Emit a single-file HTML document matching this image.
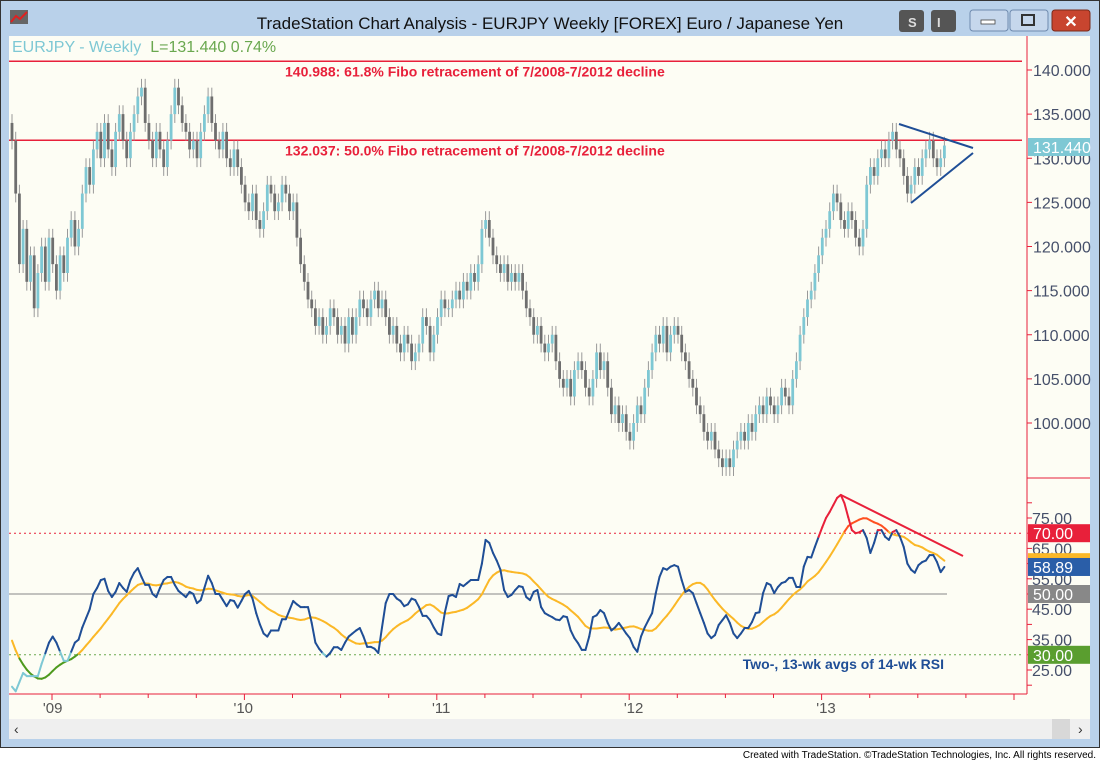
<!DOCTYPE html>
<html><head><meta charset="utf-8"><style>
body{margin:0;width:1100px;height:760px;overflow:hidden;background:#fff;font-family:"Liberation Sans",sans-serif}
</style></head><body>
<svg id="c" width="1100" height="760" xmlns="http://www.w3.org/2000/svg" font-family="Liberation Sans, sans-serif">
<rect x="0" y="0" width="1100" height="748" fill="#b9d1ea"/>
<rect x="0.5" y="0.5" width="1099" height="747" fill="none" stroke="#333"/>
<rect x="10" y="10" width="18" height="14" fill="#666"/>
<polyline points="11,22 16,16 20,19 27,12" stroke="#e02020" stroke-width="2" fill="none"/>
<text x="550" y="29" font-size="17" text-anchor="middle" fill="#111">TradeStation Chart Analysis - EURJPY Weekly [FOREX] Euro / Japanese Yen</text>
<rect x="899" y="10" width="25" height="22" rx="3" fill="#555"/>
<text x="908" y="27" font-size="13" fill="#ddd" font-weight="bold">S</text>
<rect x="931" y="10" width="25" height="22" rx="3" fill="#555"/>
<text x="937" y="27" font-size="13" fill="#ddd" font-weight="bold">I</text>
<rect x="970" y="10" width="38" height="21" rx="3" fill="#c6d7ec" stroke="#6e8aae"/>
<rect x="981" y="20" width="14" height="4" fill="#fff" stroke="#444" stroke-width="0.8"/>
<rect x="1010" y="10" width="38" height="21" rx="3" fill="#c6d7ec" stroke="#6e8aae"/>
<rect x="1022" y="15" width="12" height="10" fill="none" stroke="#333" stroke-width="2"/>
<rect x="1052" y="10" width="38" height="21" rx="3" fill="#c8452f" stroke="#7a2a1a"/>
<text x="1071" y="27" font-size="16" fill="#fff" text-anchor="middle" font-weight="bold">✕</text>
<rect x="9" y="36" width="1081" height="683" fill="#fdfdf4"/>
<rect x="9" y="719" width="1081" height="20" fill="#efefef"/>
<text x="14" y="734" font-size="14" fill="#333">‹</text>
<rect x="1052" y="719" width="18" height="20" fill="#d8d8d8"/>
<text x="1078" y="734" font-size="14" fill="#333">›</text>
<rect x="0" y="748" width="1100" height="12" fill="#fff"/>
<text x="1096" y="758" font-size="10" text-anchor="end" fill="#000">Created with TradeStation. ©TradeStation Technologies, Inc. All rights reserved.</text>
<text x="12" y="52" font-size="16"><tspan fill="#7ec8d4">EURJPY - Weekly</tspan><tspan fill="#6aa84f" dx="9">L=131.440  0.74%</tspan></text>
<g id="g"></g>
</svg>
<script>
const closes=[132,126,118,122,116,119,113,117,120,116,
121,118,115,119,117,121,123,120,122,126,
129,127,131,133,130,134,131,129,133,135,
132,130,133,135,137,138,134,132,130,133,
131,129,132,135,138,136,134,133,131,132,
130,133,135,137,134,132,131,133,130,129,
131,129,127,125,124,126,123,122,124,127,
126,124,125,127,126,124,125,121,118,116,
114,113,111,112,110,111,113,112,110,111,
109,112,110,112,114,113,112,114,115,113,
114,112,110,111,109,108,110,109,107,108,
109,112,111,108,110,112,114,113,113,114,
115,114,116,115,117,116,118,122,123,121,
119,118,117,118,116,117,116,117,115,113,
112,110,111,109,108,109,110,107,105,104,
105,103,106,107,106,104,103,105,108,106,
107,104,101,102,100,101,99,98,100,102,
101,104,106,108,110,109,111,108,110,111,
110,108,107,105,104,102,101,99,98,99,
97,96,95,96,95,97,98,99,98,100,
99,101,102,101,103,102,101,102,104,103,
102,105,107,110,112,114,115,117,119,121,
122,124,126,125,123,122,124,123,121,120,
122,127,129,128,130,131,130,132,133,131,
130,128,126,127,129,128,130,131,132,130,
129,130,131.44];
const rsiFast=[19.5,18,21,24,23,23,23,23,27,30.5,34,36,34,31,28,28,31,34,35,39,
42,45,50,52,54.6,55,51,49,50.7,53.6,52,50.7,54.6,57,58.5,55.6,53,53,50,49,
52,54.6,55.6,55.6,53,51,50,49,50.7,50,47,48,52,56,53.6,50,50,48,46,48,
47.7,45.5,47.7,50,51,48.5,43.7,40,37,36,38,38,38,41.7,41.7,44.7,47.7,46.6,45.7,45.7,
45.7,40.5,34,32,30.5,29.4,30.6,32.5,32.5,31.6,34,36,37,38,38.8,36,32.6,32.6,32,30.6,
39,47,50,50,48.5,47.7,46,46.6,48.5,48,45.7,42.8,42.8,41.4,39,37,36.5,44,49.3,49.7,
49,53.3,52.6,53.6,54.6,54.6,54.6,60,67.8,66.8,63.5,61,58,51.3,49,49.7,51.3,52.6,52.3,49,
48,50.7,51.3,45.7,43.7,43,42.4,41.6,41.4,42.7,42.4,38,35.5,33.8,31.6,31.6,36,42.4,43,44.7,
43.7,40.5,38,39,40.5,38.8,37,35.5,32.6,31,36,39,41.4,43.7,50.3,55.6,58.5,58,59,59.5,
59,54.6,50.7,51.3,50.3,47,43.7,40.5,37,35.5,36.5,39.8,41.4,43,40.5,37,35.5,37,38.8,38.8,
40.8,43.7,44,50.3,53.6,53,50.3,52.3,53.6,54,55.3,55.3,52.3,52.3,59,62.2,62,65.5,68.8,72,
75,77,79.3,81.6,82.6,79.8,75.3,71,70,70.3,71,68.4,63.5,66.8,71,71,68.8,67.8,70.4,71,
68.8,65.5,60,58,57,59.5,60.5,61,62.8,62.8,60.5,57.2,58.89];
const rsiSeed=[60,55,50,45,40,35,32,28,25,22,20,19];
const priceTicks=[140,135,130,125,120,115,110,105,100];
const rsiTicks=[75,65,55,45,35,25];
const yearLabels=["'09","'10","'11","'12","'13"];
const yearWeeks=[11,62.5,116,168,220];
const fibLevels=[140.988,132.037];
const fibTexts=["140.988: 61.8% Fibo retracement of 7/2008-7/2012 decline","132.037: 50.0% Fibo retracement of 7/2008-7/2012 decline"];

const NS="http://www.w3.org/2000/svg",G=document.getElementById('g');
function mk(t,a,p){const e=document.createElementNS(NS,t);for(const k in a)e.setAttribute(k,a[k]);(p||G).appendChild(e);return e;}
const X=i=>12+i*3.7, PY=v=>70+(140-v)*8.825, RY=v=>594-(v-50)*3.04;
const AX=1027;
let e=mk('line',{x1:AX,y1:36,x2:AX,y2:694,stroke:'#e8203a'});

e=mk('line',{x1:9,y1:694,x2:AX,y2:694,stroke:'#e8203a'});

mk('line',{x1:AX,y1:478,x2:1090,y2:478,stroke:'#e8203a'});
priceTicks.forEach(v=>{const y=PY(v);mk('line',{x1:AX,y1:y,x2:AX+5,y2:y,stroke:'#e8203a'});
 const t=mk('text',{x:1033,y:y+6,'font-size':16,fill:'#46506a'});t.textContent=v.toFixed(3);
 });
for(let v=80;v>=20;v-=5){const y=RY(v);mk('line',{x1:AX,y1:y,x2:AX+5,y2:y,stroke:'#e8203a'});}
rsiTicks.forEach(v=>{const y=RY(v);const t=mk('text',{x:1032,y:y+6,'font-size':16,fill:'#46506a'});t.textContent=v.toFixed(2);
 });
for(let k=0;k<21;k++){const x=52+k*48.1;if(x>AX)break;mk('line',{x1:x,y1:694,x2:x,y2:k%4==0?700:698,stroke:'#e8203a'});}
yearLabels.forEach((l,k)=>{const t=mk('text',{x:X(yearWeeks[k]),y:713,'font-size':15,fill:'#555','text-anchor':'middle'});t.textContent=l;
 });
fibLevels.forEach((v,k)=>{const y=PY(v);e=mk('line',{x1:9,y1:y,x2:1022,y2:y,stroke:'#e8203a','stroke-width':1.5});
 
 const t=mk('text',{x:285,y:y+15,'font-size':14,'font-weight':'bold',fill:'#e8203a'});t.textContent=fibTexts[k];
 });
closes.forEach((c,i)=>{const o=i?closes[i-1]:c+2;const up=c>=o;const x=X(i);
 const hi=Math.max(o,c)+1,lo=Math.min(o,c)-1;
 mk('line',{x1:x,y1:PY(hi),x2:x,y2:PY(lo),stroke:'#999','stroke-width':1});
 const b=mk('rect',{x:x-1.4,y:PY(Math.max(o,c)),width:2.8,height:Math.max(1,Math.abs(PY(o)-PY(c))),fill:up?'#7ec8d4':'#6e6e6e'});
 });
e=mk('polyline',{points:'899,124 973,148',stroke:'#1f4e96','stroke-width':2,fill:'none'});

e=mk('polyline',{points:'911,203 973,153',stroke:'#1f4e96','stroke-width':2,fill:'none'});

e=mk('rect',{x:1028,y:138,width:62,height:18,fill:'#7ec8d4'});

let t=mk('text',{x:1033,y:153,'font-size':16,fill:'#fff'});t.textContent=closes[closes.length-1].toFixed(3);
mk('line',{x1:9,y1:RY(70),x2:1022,y2:RY(70),stroke:'#e8203a','stroke-dasharray':'2,3'});
mk('line',{x1:9,y1:RY(50),x2:947,y2:RY(50),stroke:'#888'});
mk('line',{x1:9,y1:RY(30),x2:1022,y2:RY(30),stroke:'#6aa84f','stroke-dasharray':'2,3'});
const all=rsiSeed.concat(rsiFast);const slow=rsiFast.map((v,i)=>{let s=0;for(let k=0;k<13;k++)s+=all[i+12-k];return s/13;});
function seg(arr,colorFn,w,name){for(let i=1;i<arr.length;i++){const l=mk('line',{x1:X(i-1),y1:RY(arr[i-1]),x2:X(i),y2:RY(arr[i]),stroke:colorFn((arr[i]+arr[i-1])/2),'stroke-width':w,'stroke-linecap':'round'});
 }}
seg(slow,v=>v>70?'#ff5020':v<30?'#4e9a1e':'#fbb827',2,'rsi-13wk-avg');
seg(rsiFast,v=>v>70?'#e8203a':v<30?'#7ec8d4':'#1f4e96',2,'rsi-2wk-avg');
e=mk('line',{x1:841,y1:495,x2:963,y2:556,stroke:'#e8203a','stroke-width':2});

t=mk('text',{x:944,y:669,'font-size':14,'font-weight':'bold',fill:'#1f4e96','text-anchor':'end'});t.textContent='Two-, 13-wk avgs of 14-wk RSI';

[[70,'#e8203a','70.00'],[60.47,'#fbb827',''],[58.89,'#2a5ea8','58.89'],[50,'#888','50.00'],[30,'#5a9e2f','30.00']].forEach(a=>{
 const y=RY(a[0]);const r=mk('rect',{x:1028,y:y-9,width:62,height:a[2]?18:8,fill:a[1]});
 
 if(a[2]){const tt=mk('text',{x:1033,y:y+6,'font-size':16,fill:'#fff'});tt.textContent=a[2];}});
</script>
</body></html>
